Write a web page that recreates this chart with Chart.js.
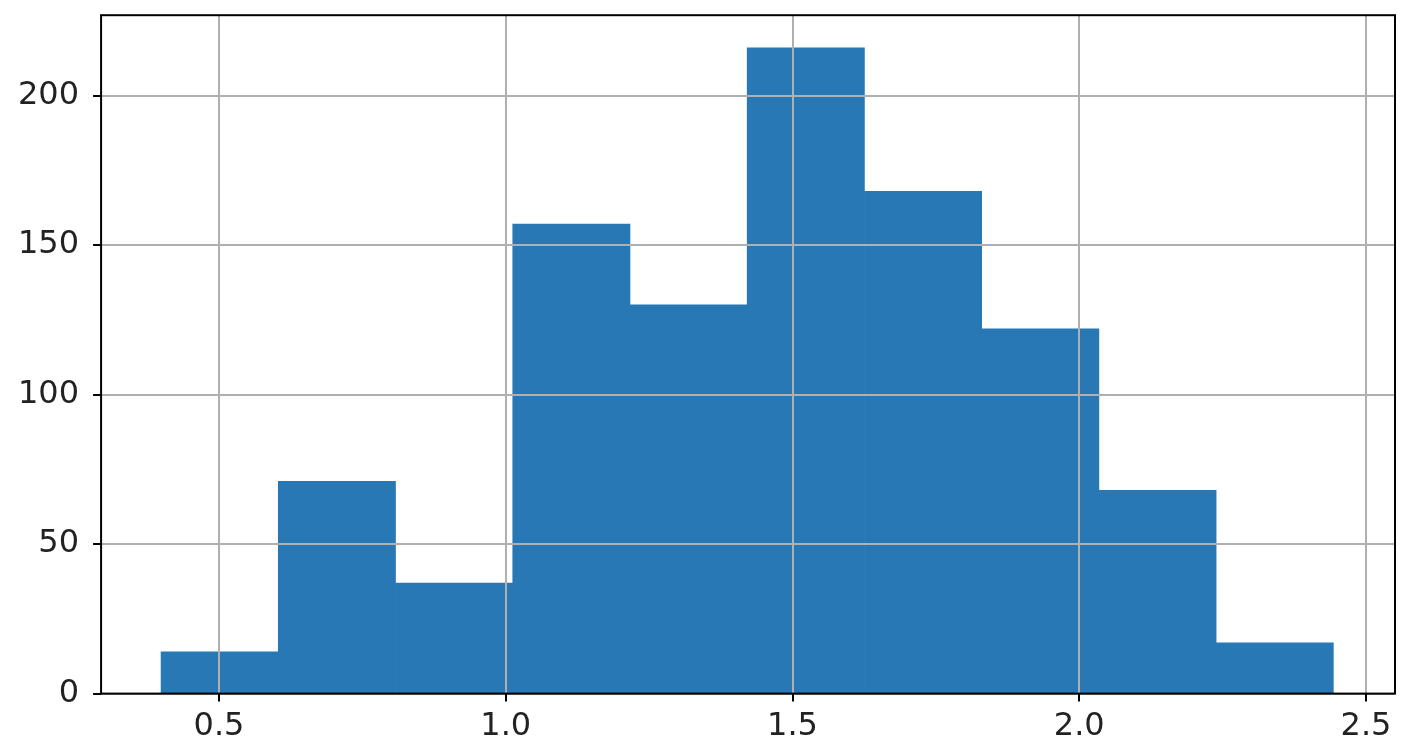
<!DOCTYPE html>
<html>
<head>
<script src="https://cdn.jsdelivr.net/npm/chart.js@4"></script>
<style>
  html, body { margin: 0; padding: 0; background: #fff; overflow: hidden; }
  #wrap { width: 1407px; height: 770px; margin-top: -18px; }
</style>
</head>
<body>
<div id="wrap"><canvas id="hist"></canvas></div>
<script>
// histogram bins (left edges) and counts
const binEdges = [0.399, 0.6034, 0.8078, 1.0122, 1.2166, 1.421, 1.6254, 1.8298, 2.0342, 2.2386, 2.443];
const counts = [14, 71, 37, 157, 130, 216, 168, 122, 68, 17];
const xTicks = [0.5, 1.0, 1.5, 2.0, 2.5];
const yTicks = [0, 50, 100, 150, 200];

const points = counts.map((c, i) => ({ x: (binEdges[i] + binEdges[i + 1]) / 2, y: c }));

// matplotlib draws the grid on top of the bars
const gridOnTop = {
  id: 'gridOnTop',
  afterDatasetsDraw(chart) {
    const { ctx, chartArea: a, scales } = chart;
    ctx.save();
    ctx.strokeStyle = '#b0b0b0';
    ctx.lineWidth = 2;
    xTicks.forEach(v => {
      const px = Math.round(scales.x.getPixelForValue(v));
      ctx.beginPath(); ctx.moveTo(px, a.top); ctx.lineTo(px, a.bottom); ctx.stroke();
    });
    yTicks.forEach(v => {
      const py = Math.round(scales.y.getPixelForValue(v));
      ctx.beginPath(); ctx.moveTo(a.left, py); ctx.lineTo(a.right, py); ctx.stroke();
    });
    // tick marks outside the frame
    ctx.strokeStyle = '#000';
    xTicks.forEach(v => {
      const px = Math.round(scales.x.getPixelForValue(v));
      ctx.beginPath(); ctx.moveTo(px, a.bottom); ctx.lineTo(px, a.bottom + 8); ctx.stroke();
    });
    yTicks.forEach(v => {
      const py = Math.round(scales.y.getPixelForValue(v));
      ctx.beginPath(); ctx.moveTo(a.left - 8, py); ctx.lineTo(a.left, py); ctx.stroke();
    });
    ctx.strokeRect(a.left, a.top, a.right - a.left, a.bottom - a.top);
    ctx.restore();
  }
};

new Chart(document.getElementById('hist'), {
  type: 'bar',
  data: {
    datasets: [{
      data: points,
      backgroundColor: '#2878b5',
      borderWidth: 0,
      barPercentage: 1.0,
      categoryPercentage: 1.0
    }]
  },
  options: {
    responsive: true,
    maintainAspectRatio: false,
    animation: false,
    layout: { padding: { left: 4, right: 12, top: 0, bottom: 0 } },
    plugins: { legend: { display: false }, tooltip: { enabled: false } },
    scales: {
      x: {
        type: 'linear',
        offset: false,
        min: 0.2944,
        max: 2.5505,
        afterBuildTicks: s => { s.ticks = xTicks.map(v => ({ value: v })); },
        grid: { display: false },
        border: { display: false },
        ticks: { color: '#222', font: { size: 32, family: 'DejaVu Sans' }, padding: 6,
                 callback: v => v.toFixed(1) }
      },
      y: {
        min: 0,
        max: 226.9,
        afterBuildTicks: s => { s.ticks = yTicks.map(v => ({ value: v })); },
        grid: { display: false },
        border: { display: false },
        ticks: { color: '#222', font: { size: 32, family: 'DejaVu Sans' }, padding: 14 }
      }
    }
  },
  plugins: [gridOnTop]
});
</script>
</body>
</html>
